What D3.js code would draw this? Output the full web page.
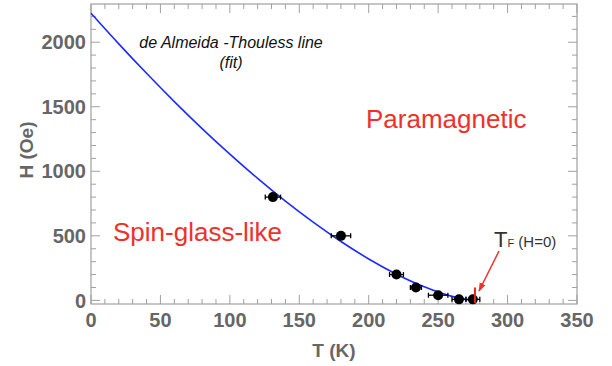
<!DOCTYPE html>
<html>
<head>
<meta charset="utf-8">
<script src="https://cdn.jsdelivr.net/npm/d3@7"></script>
<style>
  body { margin: 0; background: #fff; }
  svg { display: block; font-family: "Liberation Sans", Arial, sans-serif; }
</style>
</head>
<body>
<svg id="chart" width="612" height="366"></svg>
<script>
// measured points (T in K, H in Oe, horizontal error in K)
const tempK = [131, 180, 220, 234, 250, 265, 275];
const fieldOe = [800, 500, 200, 100, 40, 8, 8];
const tempErr = [5.5, 7, 5, 4, 7, 5, 5];

// de Almeida-Thouless fit line
const fitT = [0, 20, 40, 60, 80, 100, 120, 140, 160, 180, 200, 220, 240, 260, 270, 276];
const fitH = [2224, 1987, 1759, 1540, 1331, 1133, 945, 769, 606, 456, 321, 203, 105, 31, 7, 0];

// freezing temperature marker at H=0
const tfT = 276.5;
const tfRange = [-20, 100];

const xTicks = [0, 50, 100, 150, 200, 250, 300, 350];
const yTicks = [0, 500, 1000, 1500, 2000];

const svg = d3.select("#chart");

const x = d3.scaleLinear().domain([0, 350]).range([91, 577]);
const y = d3.scaleLinear().domain([-28, 2296]).range([304, 4]);

const axisGray = "#a0a0a0";
const labelGray = "#666";

// frame
svg.append("rect")
    .attr("x", x(0)).attr("y", y(2296))
    .attr("width", x(350) - x(0)).attr("height", y(-28) - y(2296))
    .attr("fill", "none").attr("stroke", axisGray).attr("stroke-width", 1.2);

// ticks, all inward on four sides
const xMinor = d3.range(0, 351, 10);
const yMinor = d3.range(0, 2296, 100);

const tickG = svg.append("g").attr("stroke", axisGray).attr("stroke-width", 1);
xMinor.forEach(function(t) {
    const len = t % 50 === 0 ? 9 : 5;
    tickG.append("line").attr("x1", x(t)).attr("x2", x(t)).attr("y1", y(-28)).attr("y2", y(-28) - len);
    tickG.append("line").attr("x1", x(t)).attr("x2", x(t)).attr("y1", y(2296)).attr("y2", y(2296) + len);
});
yMinor.forEach(function(v) {
    const len = v % 500 === 0 ? 9 : 5;
    tickG.append("line").attr("x1", x(0)).attr("x2", x(0) + len).attr("y1", y(v)).attr("y2", y(v));
    tickG.append("line").attr("x1", x(350)).attr("x2", x(350) - len).attr("y1", y(v)).attr("y2", y(v));
});

// tick labels
svg.append("g").selectAll("text").data(xTicks).enter().append("text")
    .attr("x", function(d) { return x(d); })
    .attr("y", 327)
    .attr("text-anchor", "middle")
    .style("font-size", "20px").style("font-weight", "bold").style("fill", labelGray)
    .text(function(d) { return d; });

svg.append("g").selectAll("text").data(yTicks).enter().append("text")
    .attr("x", 86)
    .attr("y", function(d) { return y(d); })
    .attr("dy", "0.36em")
    .attr("text-anchor", "end")
    .style("font-size", "20px").style("font-weight", "bold").style("fill", labelGray)
    .text(function(d) { return d; });

// axis titles
svg.append("text")
    .attr("x", 334).attr("y", 357)
    .attr("text-anchor", "middle")
    .style("font-size", "19px").style("font-weight", "bold").style("fill", labelGray)
    .text("T (K)");

svg.append("text")
    .attr("transform", "translate(33,150) rotate(-90)")
    .attr("text-anchor", "middle")
    .style("font-size", "19px").style("font-weight", "bold").style("fill", labelGray)
    .text("H (Oe)");

// fit line
const fitData = fitT.map(function(t, i) { return {t: t, h: fitH[i]}; });
svg.append("path")
    .datum(fitData)
    .attr("fill", "none")
    .attr("stroke", "#1c2bff")
    .attr("stroke-width", 1.6)
    .attr("d", d3.line()
        .x(function(d) { return x(d.t); })
        .y(function(d) { return y(d.h); })
        .curve(d3.curveMonotoneX));

// error bars + points
const pts = tempK.map(function(t, i) { return {t: t, h: fieldOe[i], e: tempErr[i]}; });
const pg = svg.append("g");
pts.forEach(function(d) {
    const cy = y(d.h);
    pg.append("line").attr("x1", x(d.t - d.e)).attr("x2", x(d.t + d.e))
        .attr("y1", cy).attr("y2", cy).attr("stroke", "#000").attr("stroke-width", 1.3);
    [d.t - d.e, d.t + d.e].forEach(function(v) {
        pg.append("line").attr("x1", x(v)).attr("x2", x(v))
            .attr("y1", cy - 2.5).attr("y2", cy + 2.5).attr("stroke", "#000").attr("stroke-width", 1.3);
    });
    pg.append("circle").attr("cx", x(d.t)).attr("cy", cy).attr("r", 5).attr("fill", "#000");
});

// Tf marker
svg.append("line")
    .attr("x1", x(tfT)).attr("x2", x(tfT))
    .attr("y1", y(tfRange[0])).attr("y2", y(tfRange[1]))
    .attr("stroke", "#e8231d").attr("stroke-width", 2);

// annotations
svg.append("text")
    .attr("x", 231).attr("y", 48)
    .attr("text-anchor", "middle")
    .style("font-size", "16px").style("font-style", "italic").style("fill", "#111")
    .text("de Almeida -Thouless line");
svg.append("text")
    .attr("x", 231).attr("y", 68)
    .attr("text-anchor", "middle")
    .style("font-size", "16px").style("font-style", "italic").style("fill", "#111")
    .text("(fit)");

svg.append("text")
    .attr("x", 366).attr("y", 128)
    .style("font-size", "26px").style("fill", "#f0302a")
    .text("Paramagnetic");

svg.append("text")
    .attr("x", 113).attr("y", 241)
    .style("font-size", "26px").style("fill", "#f0302a")
    .text("Spin-glass-like");

const tf = svg.append("text")
    .attr("x", 494).attr("y", 247)
    .style("fill", "#333");
tf.append("tspan").style("font-size", "22px").text("T");
tf.append("tspan").style("font-size", "11px").text("F");
tf.append("tspan").style("font-size", "15px").text(" (H=0)");

// arrow
svg.append("defs").append("marker")
    .attr("id", "arr")
    .attr("viewBox", "0 0 10 10")
    .attr("refX", 9).attr("refY", 5)
    .attr("markerWidth", 6).attr("markerHeight", 6)
    .attr("orient", "auto")
    .append("path").attr("d", "M0,1.5 L10,5 L0,8.5 Z").attr("fill", "#f0302a");

svg.append("line")
    .attr("x1", 499).attr("y1", 251)
    .attr("x2", 479).attr("y2", 291)
    .attr("stroke", "#f0302a").attr("stroke-width", 1.5)
    .attr("marker-end", "url(#arr)");
</script>
</body>
</html>
